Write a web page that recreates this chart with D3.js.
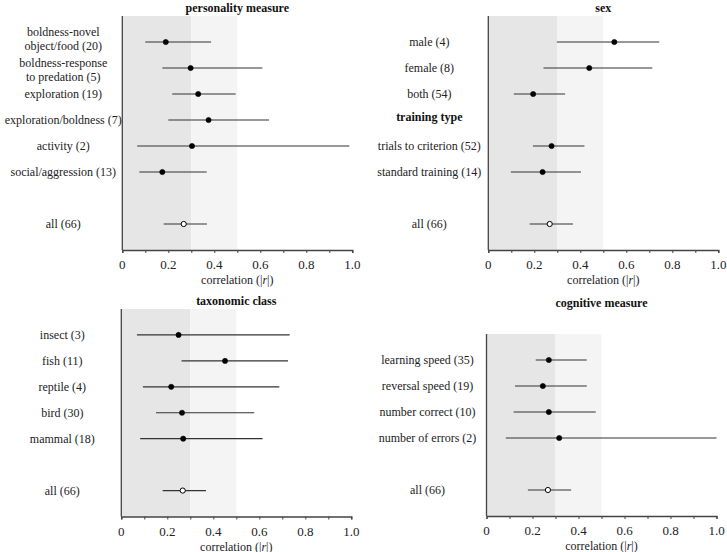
<!DOCTYPE html>
<html><head><meta charset="utf-8">
<script src="https://cdn.jsdelivr.net/npm/d3@7/dist/d3.min.js"></script>
<style>body{margin:0;background:#fff}svg{display:block}
svg text{font-family:"Liberation Serif","Times New Roman",Times,serif;}</style>
</head><body>
<svg id="c" width="727" height="552"></svg>
<script>
// ---- data ----
const personalityLabels = [["boldness-novel","object/food (20)"],["boldness-response","to predation (5)"],["exploration (19)"],["exploration/boldness (7)"],["activity (2)"],["social/aggression (13)"]];
const personalityEst = [0.189, 0.297, 0.330, 0.375, 0.303, 0.174];
const personalityLo  = [0.100, 0.174, 0.217, 0.200, 0.065, 0.074];
const personalityHi  = [0.386, 0.609, 0.493, 0.638, 0.987, 0.367];

const sexLabels = ["male (4)","female (8)","both (54)"];
const sexEst = [0.548, 0.439, 0.195];
const sexLo  = [0.298, 0.240, 0.111];
const sexHi  = [0.743, 0.713, 0.334];
const trainingHeader = "training type";
const trainingLabels = ["trials to criterion (52)","standard training (14)"];
const trainingEst = [0.275, 0.236];
const trainingLo  = [0.194, 0.098];
const trainingHi  = [0.418, 0.403];

const taxonLabels = ["insect (3)","fish (11)","reptile (4)","bird (30)","mammal (18)"];
const taxonEst = [0.249, 0.451, 0.217, 0.264, 0.269];
const taxonLo  = [0.068, 0.262, 0.094, 0.151, 0.082];
const taxonHi  = [0.732, 0.725, 0.687, 0.578, 0.614];

const cognitiveLabels = ["learning speed (35)","reversal speed (19)","number correct (10)","number of errors (2)"];
const cognitiveEst = [0.271, 0.245, 0.271, 0.316];
const cognitiveLo  = [0.214, 0.124, 0.118, 0.084];
const cognitiveHi  = [0.436, 0.436, 0.475, 1.000];

const allLabel = "all (66)";
const allEst = 0.267, allLo = 0.180, allHi = 0.368;

const xTicks = [0,0.1,0.2,0.3,0.4,0.5,0.6,0.7,0.8,0.9,1.0];
const xTickLabels = [0,0.2,0.4,0.6,0.8,1.0];
const bands = [[0,0.3,"#e6e6e6"],[0.3,0.5,"#f4f4f4"]];

// ---- drawing ----
const svg = d3.select("#c");

function rowsFrom(labels, est, lo, hi, startIdx){
  return labels.map((l,i)=>({label:Array.isArray(l)?l:[l], est:est[i], lo:lo[i], hi:hi[i], row:startIdx+i}));
}

function panel(opt){
  const x = d3.scaleLinear().domain([0,1]).range([opt.x0, opt.x0+230]);
  const y = d3.scaleLinear().domain([-1, opt.nRows]).range([opt.top, opt.bottom]);
  const g = svg.append("g");
  g.selectAll("rect.band").data(bands).join("rect")
    .attr("x", d=>x(d[0])).attr("width", d=>x(d[1])-x(d[0]))
    .attr("y", opt.top).attr("height", opt.bottom-opt.top).attr("fill", d=>d[2]);
  g.append("line").attr("x1",x(0)).attr("x2",x(0)).attr("y1",opt.top).attr("y2",opt.bottom)
    .attr("stroke","#444").attr("stroke-width",1.3);
  const ax = g.append("g").attr("transform",`translate(0,${opt.bottom})`)
    .call(d3.axisBottom(x).tickValues(xTicks).tickSize(3).tickFormat(()=>""));
  ax.select(".domain").attr("stroke","#444").attr("stroke-width",1.3);
  ax.selectAll(".tick line").attr("stroke","#444");
  g.selectAll("text.tl").data(xTickLabels).join("text")
    .attr("x", d=>x(d)).attr("y", opt.bottom+19)
    .attr("text-anchor","middle").attr("font-size",13).attr("fill","#222")
    .text(d=> d===0 ? "0" : d3.format(".1f")(d));
  const al = g.append("text").attr("x", x(0.5)).attr("y", opt.bottom+34)
    .attr("text-anchor","middle").attr("font-size",12).attr("fill","#222");
  al.append("tspan").text("correlation (|");
  al.append("tspan").attr("font-style","italic").text("r");
  al.append("tspan").text("|)");
  g.append("text").attr("x", x(0.5)).attr("y", opt.titleY).attr("text-anchor","middle")
    .attr("font-size",12).attr("font-weight","bold").attr("fill","#111").text(opt.title);
  (opt.headers||[]).forEach(h=>{
    g.append("text").attr("x", x(0)-59).attr("y", y(h.row)+1).attr("text-anchor","middle")
      .attr("font-size",12).attr("font-weight","bold").attr("fill","#111").text(h.text);
  });
  const rows = opt.rows.concat([{label:[allLabel], est:allEst, lo:allLo, hi:allHi, row:opt.allRow, all:true}]);
  rows.forEach(r=>{
    const yc = y(r.row);
    const n = r.label.length;
    const shift = n>1 ? (r.row===0 ? -3.5 : 2) : 0;
    r.label.forEach((t,j)=>{
      g.append("text").attr("x", x(0)-59).attr("y", yc + 4 + (j-(n-1)/2)*14 + shift)
        .attr("text-anchor","middle").attr("font-size",12).attr("fill","#222").text(t);
    });
    g.append("line").attr("x1",x(r.lo)).attr("x2",x(r.hi)).attr("y1",yc).attr("y2",yc)
      .attr("stroke","#333").attr("stroke-width",1.2);
    g.append("circle").attr("cx",x(r.est)).attr("cy",yc).attr("r",2.6)
      .attr("fill", r.all ? "#fff" : "#000").attr("stroke","#000").attr("stroke-width", r.all?1:0.6);
  });
}

panel({x0:122.3, top:16, bottom:250, nRows:8, titleY:12, title:"personality measure",
  rows: rowsFrom(personalityLabels, personalityEst, personalityLo, personalityHi, 0), allRow:7});
panel({x0:488.3, top:16, bottom:250, nRows:8, titleY:12, title:"sex",
  rows: rowsFrom(sexLabels, sexEst, sexLo, sexHi, 0).concat(rowsFrom(trainingLabels, trainingEst, trainingLo, trainingHi, 4)),
  headers:[{text:trainingHeader,row:3}], allRow:7});
panel({x0:121.3, top:309, bottom:516.5, nRows:7, titleY:305, title:"taxonomic class",
  rows: rowsFrom(taxonLabels, taxonEst, taxonLo, taxonHi, 0), allRow:6});
panel({x0:486.5, top:334, bottom:516, nRows:6, titleY:307, title:"cognitive measure",
  rows: rowsFrom(cognitiveLabels, cognitiveEst, cognitiveLo, cognitiveHi, 0), allRow:5});
</script>
</body></html>
